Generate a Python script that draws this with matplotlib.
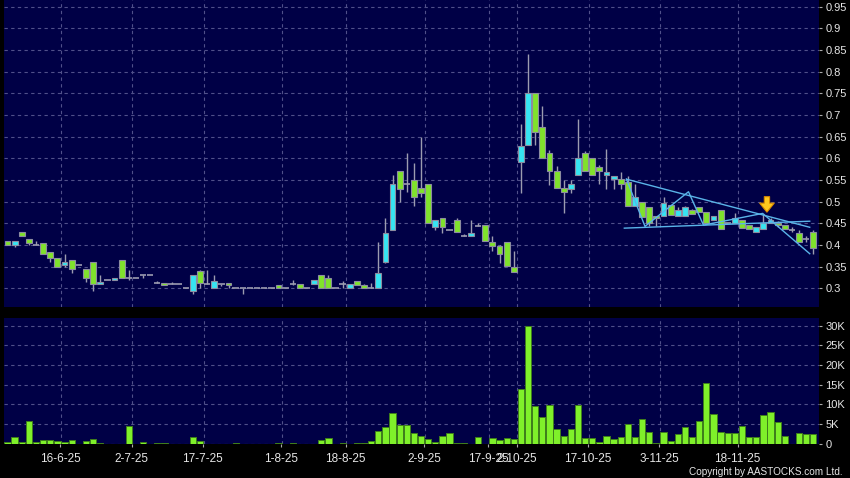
import matplotlib
matplotlib.use("Agg")
import matplotlib.pyplot as plt
import numpy as np

plt.rcParams["font.family"] = ["Liberation Sans", "DejaVu Sans"]

# Daily OHLC (one entry per trading day, left to right)
opens = [0.41, 0.40, 0.43, 0.415, 0.40, 0.405, 0.385, 0.37, 0.355, 0.365,
         0.355, 0.345, 0.36, 0.31, 0.32, 0.32, 0.365, 0.325, 0.325, 0.33,
         0.33, 0.312, 0.313, 0.31, 0.31, 0.30, 0.295, 0.341, 0.31, 0.30,
         0.31, 0.312, 0.30, 0.30, 0.30, 0.30, 0.30, 0.30, 0.307, 0.30,
         0.31, 0.31, 0.30, 0.31, 0.33, 0.325, 0.30, 0.31, 0.30, 0.316,
         0.307, 0.30, 0.30, 0.36, 0.435, 0.57, 0.54, 0.55, 0.531, 0.54,
         0.441, 0.462, 0.435, 0.458, 0.421, 0.42, 0.444, 0.446, 0.406, 0.397,
         0.406, 0.35, 0.591, 0.631, 0.75, 0.672, 0.612, 0.571, 0.531, 0.53,
         0.562, 0.612, 0.60, 0.581, 0.562, 0.552, 0.552, 0.545, 0.491, 0.50,
         0.487, 0.466, 0.467, 0.492, 0.467, 0.467, 0.481, 0.487, 0.476, 0.458,
         0.48, 0.45, 0.45, 0.458, 0.446, 0.429, 0.437, 0.45, 0.452, 0.446,
         0.435, 0.427, 0.414, 0.431]
highs = [0.41, 0.41, 0.43, 0.415, 0.41, 0.405, 0.385, 0.37, 0.38, 0.365,
         0.355, 0.345, 0.36, 0.33, 0.32, 0.325, 0.365, 0.342, 0.325, 0.33,
         0.33, 0.317, 0.313, 0.315, 0.31, 0.30, 0.33, 0.342, 0.342, 0.33,
         0.31, 0.312, 0.30, 0.30, 0.30, 0.30, 0.30, 0.30, 0.307, 0.30,
         0.32, 0.31, 0.30, 0.32, 0.332, 0.33, 0.30, 0.318, 0.31, 0.316,
         0.31, 0.312, 0.407, 0.462, 0.562, 0.57, 0.612, 0.59, 0.65, 0.54,
         0.458, 0.462, 0.435, 0.462, 0.425, 0.458, 0.45, 0.446, 0.42, 0.40,
         0.406, 0.386, 0.68, 0.84, 0.75, 0.72, 0.62, 0.582, 0.55, 0.55,
         0.69, 0.616, 0.60, 0.585, 0.621, 0.56, 0.569, 0.56, 0.54, 0.50,
         0.487, 0.466, 0.51, 0.492, 0.487, 0.49, 0.484, 0.487, 0.476, 0.466,
         0.48, 0.45, 0.475, 0.458, 0.446, 0.441, 0.471, 0.462, 0.455, 0.446,
         0.441, 0.435, 0.42, 0.435]
lows = [0.40, 0.395, 0.42, 0.40, 0.40, 0.38, 0.36, 0.35, 0.35, 0.335,
        0.355, 0.315, 0.295, 0.31, 0.32, 0.32, 0.325, 0.32, 0.325, 0.325,
        0.33, 0.312, 0.307, 0.31, 0.31, 0.30, 0.288, 0.30, 0.31, 0.30,
        0.305, 0.30, 0.30, 0.288, 0.30, 0.30, 0.30, 0.30, 0.30, 0.30,
        0.307, 0.30, 0.30, 0.31, 0.30, 0.30, 0.30, 0.30, 0.30, 0.307,
        0.30, 0.30, 0.30, 0.358, 0.435, 0.50, 0.523, 0.49, 0.512, 0.45,
        0.435, 0.427, 0.435, 0.431, 0.421, 0.42, 0.444, 0.41, 0.387, 0.359,
        0.352, 0.337, 0.521, 0.631, 0.63, 0.60, 0.538, 0.531, 0.475, 0.52,
        0.562, 0.571, 0.562, 0.54, 0.53, 0.529, 0.53, 0.491, 0.491, 0.465,
        0.445, 0.445, 0.467, 0.469, 0.467, 0.467, 0.471, 0.477, 0.45, 0.458,
        0.437, 0.45, 0.45, 0.439, 0.437, 0.429, 0.437, 0.45, 0.441, 0.437,
        0.43, 0.408, 0.408, 0.38]
closes = [0.40, 0.41, 0.42, 0.405, 0.40, 0.38, 0.37, 0.35, 0.36, 0.345,
          0.355, 0.325, 0.31, 0.315, 0.32, 0.325, 0.325, 0.325, 0.325, 0.33,
          0.33, 0.312, 0.307, 0.31, 0.31, 0.30, 0.33, 0.312, 0.31, 0.316,
          0.31, 0.307, 0.30, 0.30, 0.30, 0.30, 0.30, 0.30, 0.30, 0.30,
          0.31, 0.30, 0.30, 0.32, 0.30, 0.30, 0.30, 0.31, 0.31, 0.307,
          0.30, 0.30, 0.336, 0.427, 0.54, 0.53, 0.54, 0.51, 0.521, 0.45,
          0.458, 0.441, 0.435, 0.431, 0.421, 0.427, 0.444, 0.41, 0.397, 0.38,
          0.352, 0.337, 0.629, 0.75, 0.66, 0.60, 0.571, 0.531, 0.522, 0.54,
          0.60, 0.571, 0.562, 0.572, 0.569, 0.56, 0.541, 0.491, 0.51, 0.465,
          0.45, 0.462, 0.497, 0.469, 0.481, 0.487, 0.471, 0.477, 0.45, 0.466,
          0.437, 0.45, 0.462, 0.439, 0.437, 0.441, 0.45, 0.458, 0.447, 0.437,
          0.435, 0.408, 0.414, 0.393]

# Volume in thousands of shares
volume_k = [0.4, 1.7, 0.3, 5.7, 0.3, 1.0, 0.85, 0.7, 0.35, 0.85,
            0, 0.6, 1.1, 0.1, 0, 0, 0, 4.5, 0, 0.35,
            0, 0.15, 0.1, 0, 0, 0, 1.7, 0.7, 0, 0,
            0, 0, 0.25, 0, 0, 0, 0, 0, 0.25, 0,
            0.05, 0, 0, 0, 0.9, 1.35, 0, 0.25, 0, 0.25,
            0.15, 0.6, 3.2, 4.1, 7.8, 4.7, 4.7, 2.55, 1.9, 1.2,
            0.45, 1.9, 2.55, 0.25, 0.05, 0, 1.6, 0, 1.3, 0.85,
            1.35, 1.2, 14, 30, 9.5, 6.8, 9.8, 3.65, 1.95, 3.8,
            9.8, 1.45, 1.35, 0.35, 1.8, 1.1, 1.6, 4.9, 1.6, 6.3,
            2.9, 0.25, 3.05, 0.6, 2.3, 4.15, 1.7, 5.8, 15.5, 7.55,
            3.05, 2.7, 2.8, 4.4, 1.6, 1.6, 7.15, 7.9, 5.6, 1.85,
            0, 2.65, 2.3, 2.3]

# Date labels and the trading-day index they belong to
date_labels = ["16-6-25", "2-7-25", "17-7-25", "1-8-25", "18-8-25", "2-9-25",
               "17-9-25", "2-10-25", "17-10-25", "3-11-25", "18-11-25"]
date_index = [7, 17, 27, 38, 47, 58, 67, 71, 81, 91, 102]

price_ticks = [0.30, 0.35, 0.40, 0.45, 0.50, 0.55, 0.60, 0.65, 0.70, 0.75, 0.80, 0.85, 0.90, 0.95]
vol_ticks_k = [0, 5, 10, 15, 20, 25, 30]

# Drawn trend lines (day index, price)
upper_line_x = [86.8, 112.5]
upper_line_y = [0.552, 0.441]
lower_line_x = [86.5, 112.5]
lower_line_y = [0.439, 0.455]
zigzag_x = [86.8, 89.4, 95.5, 97.6, 105.9, 112.5]
zigzag_y = [0.552, 0.443, 0.523, 0.446, 0.473, 0.38]
arrow_day = 106.5
arrow_tip = 0.4695
arrow_top = 0.518

o = np.array(opens)
h = np.array(highs)
l = np.array(lows)
c = np.array(closes)
v = np.array(volume_k) * 1000
x = np.arange(len(o))

bg = "#000046"
grid_col = "#50508a"
up_col = "#36e4f2"
down_col = "#80e22c"
edge_col = "#8c8ca0"
wick_col = "#9c9cb0"
text_col = "#e6e6e6"

fig = plt.figure(figsize=(8.5, 4.78), dpi=100, facecolor="black")
ax1 = fig.add_axes([4 / 850, 1 - 306.7 / 478, 815 / 850, 306.7 / 478])
ax2 = fig.add_axes([4 / 850, 1 - 443.5 / 478, 815 / 850, 125.2 / 478])

for ax in (ax1, ax2):
    ax.set_facecolor(bg)
    for s in ax.spines.values():
        s.set_visible(False)
    ax.set_xlim(-0.49, 113.8)
    ax.set_axisbelow(True)
    ax.yaxis.tick_right()
    ax.grid(axis="y", color=grid_col, linestyle=(0, (3, 3)), linewidth=0.8)
    for d in date_index:
        ax.axvline(d + 0.5, color=grid_col, linestyle=(0, (3, 3)), linewidth=0.8, zorder=0)
    ax.tick_params(axis="y", length=2.5, width=0.8, color="#aaaaaa", pad=2,
                   labelsize=8, labelcolor=text_col)

# Price panel
ax1.set_ylim(0.2577, 0.9655)
ax1.set_yticks(price_ticks)
ax1.set_yticklabels([f"{p:g}" for p in price_ticks])
ax1.tick_params(axis="x", bottom=False, labelbottom=False)

ax1.vlines(x, l, h, color=wick_col, linewidth=1.0, zorder=2)
up = c > o
down = c < o
flat = c == o
ax1.bar(x[up], (c - o)[up], bottom=o[up], width=0.82, color=up_col,
        edgecolor=edge_col, linewidth=0.8, zorder=3)
ax1.bar(x[down], (o - c)[down], bottom=c[down], width=0.82, color=down_col,
        edgecolor=edge_col, linewidth=0.8, zorder=3)
ax1.hlines(c[flat], x[flat] - 0.45, x[flat] + 0.45, color=wick_col, linewidth=1.2, zorder=3)

ax1.plot(upper_line_x, upper_line_y, color="#5ab4e8", linewidth=1.0, zorder=4)
ax1.plot(lower_line_x, lower_line_y, color="#5ab4e8", linewidth=1.0, zorder=4)
ax1.plot(zigzag_x, zigzag_y, color="#5ab4e8", linewidth=1.0, zorder=4)

ax1.annotate("", xy=(arrow_day, arrow_tip), xytext=(arrow_day, arrow_top),
             arrowprops=dict(arrowstyle="simple,head_width=1.05,head_length=0.65,tail_width=0.38",
                             mutation_scale=10, fc="#ffc81e", ec="#d98a00", lw=0.8),
             zorder=6)

# Volume panel
ax2.set_ylim(0, 31900)
ax2.set_yticks([k * 1000 for k in vol_ticks_k])
ax2.set_yticklabels(["0" if k == 0 else f"{k}K" for k in vol_ticks_k])
nz = v > 0
ax2.bar(x[nz], v[nz], width=0.88, color="#7ff02a", edgecolor="#3f7f1c",
        linewidth=0.7, zorder=3)

ax2.set_xticks([d + 0.4 for d in date_index])
ax2.set_xticklabels(date_labels)
ax2.tick_params(axis="x", length=2.5, width=0.8, color="#aaaaaa", pad=4,
                labelsize=8.5, labelcolor=text_col)

fig.text(843 / 850, 1 - 472 / 478, "Copyright by AASTOCKS.com Ltd.", color=text_col,
         fontsize=7.2, ha="right", va="center")

fig.savefig("out.png", dpi=100, facecolor="black")
